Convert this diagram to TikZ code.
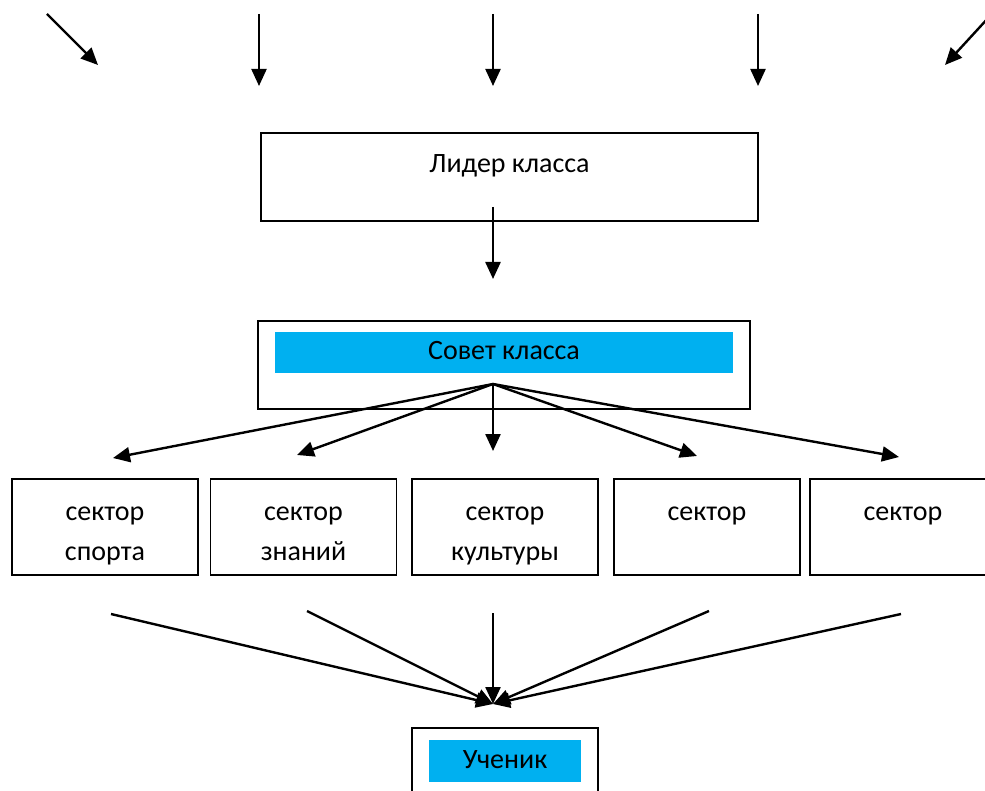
\documentclass[tikz,border=0pt]{standalone}
\usepackage{fontspec}
\setmainfont{Carlito}
\usetikzlibrary{arrows.meta}
\definecolor{skyblue}{HTML}{00B0F0}
\begin{document}
\begin{tikzpicture}[x=1pt,y=-1pt,
  box/.style={draw=black,line width=1.8pt,inner sep=0pt},
  fillbox/.style={fill=skyblue,draw=none,inner sep=0pt},
  lbl/.style={font=\fontsize{28}{40}\selectfont,anchor=base,inner sep=0pt},
  arr/.style={line width=2.4pt,-{Triangle[length=17pt,width=15pt]}},
  thinarr/.style={line width=2.2pt,-{Triangle[length=17pt,width=15pt]}},
  ]
\useasboundingbox (0,0) rectangle (985,791);
\clip (0,0) rectangle (985,791);

% top arrows
\coordinate (t1s) at (47,14);  \coordinate (t1e) at (98,65);
\coordinate (t2s) at (259,14); \coordinate (t2e) at (259,86);
\coordinate (t3s) at (493,14); \coordinate (t3e) at (493,86);
\coordinate (t4s) at (758,14); \coordinate (t4e) at (758,86);
\coordinate (t5s) at (990,16); \coordinate (t5e) at (945,65);
\draw[arr] (t1s) -- (t1e);
\draw[thinarr] (t2s) -- (t2e);
\draw[thinarr] (t3s) -- (t3e);
\draw[thinarr] (t4s) -- (t4e);
\draw[arr] (t5s) -- (t5e);

% leader box
\node[box,minimum width=497pt,minimum height=88pt] (lider) at (509.5,177) {};
\node[lbl] (liderT) at (509.5,173) {Лидер класса};
\coordinate (la) at (493,207);
\coordinate (lb) at (493,279);
\draw[arr] (la) -- (lb);

% council box
\node[box,minimum width=492pt,minimum height=88pt] (sovet) at (504,365) {};
\node[fillbox,minimum width=458pt,minimum height=41pt] (sovetB) at (504,352.5) {};
\node[lbl] (sovetT) at (504,360) {Совет класса};
\coordinate (so) at (493,384);
\coordinate (f1) at (113,458);
\coordinate (f2) at (297,455);
\coordinate (f3) at (493,451);
\coordinate (f4) at (697,456);
\coordinate (f5) at (899,457);
\foreach \f in {f1,f2,f3,f4,f5} \draw[arr] (so) -- (\f);

% sector boxes
\foreach \n/\x in {1/105,2/303.5,3/505,4/707,5/903}
  \node[box,minimum width=186pt,minimum height=96pt] (s\n) at (\x,527) {};
\node[lbl] (s1a) at (105,520) {сектор};
\node[lbl] (s1b) at (105,560) {спорта};
\node[lbl] (s2a) at (303.5,520) {сектор};
\node[lbl] (s2b) at (303.5,560) {знаний};
\node[lbl] (s3a) at (505,520) {сектор};
\node[lbl] (s3b) at (505,560) {культуры};
\node[lbl] (s4a) at (707,520) {сектор};
\node[lbl] (s5a) at (903,520) {сектор};

% bottom arrows
\coordinate (b1) at (111,614);
\coordinate (b2) at (307,611);
\coordinate (b3) at (493,613);
\coordinate (b4) at (709,611);
\coordinate (b5) at (901,614);
\coordinate (u) at (493,704);
\foreach \b in {b1,b2,b3,b4,b5} \draw[arr] (\b) -- (u);

% pupil box
\node[box,minimum width=186pt,minimum height=76pt] (uch) at (505,766) {};
\node[fillbox,minimum width=152pt,minimum height=42pt] (uchB) at (505,761) {};
\node[lbl] (uchT) at (505,768) {Ученик};
\end{tikzpicture}
\end{document}
